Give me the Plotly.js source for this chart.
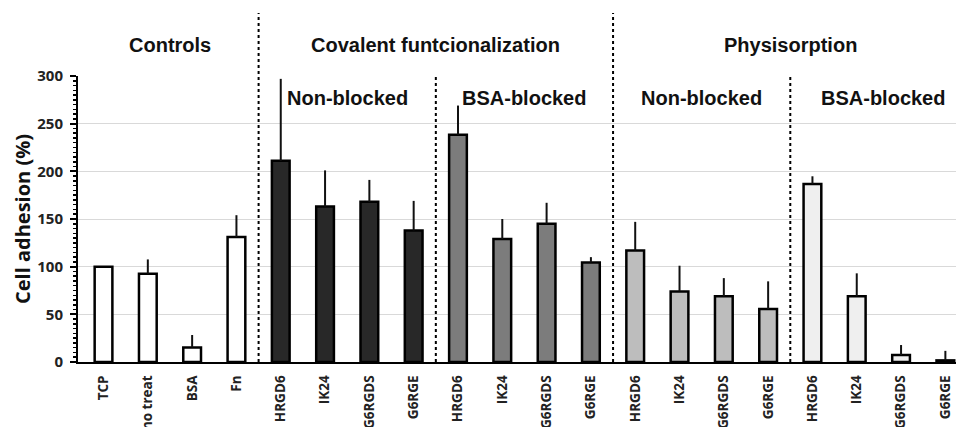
<!DOCTYPE html>
<html>
<head>
<meta charset="utf-8">
<script src="https://cdn.plot.ly/plotly-3.0.1.min.js"></script>
<style>html,body{margin:0;padding:0;background:#fff;}#chart{width:956px;height:427px;}</style>
</head>
<body>
<div id="chart"></div>
<script>
// ---- data ----
const categories = ["TCP","no treat","BSA","Fn",
  "HRGD6","IK24","G6RGDS","G6RGE",
  "HRGD6","IK24","G6RGDS","G6RGE",
  "HRGD6","IK24","G6RGDS","G6RGE",
  "HRGD6","IK24","G6RGDS","G6RGE"];
const adhesion = [100, 92.6, 15.3, 131,
  211, 163, 168, 138,
  238.5, 129, 145, 104.5,
  117, 74, 69, 55.6,
  186.8, 69, 7.3, 1.7];
const errorUp = [0, 15, 13, 23,
  86, 38, 23, 31,
  30.5, 21, 22, 5.5,
  30, 27, 19, 29,
  8, 24, 10.5, 10];
const groupOf = [0,0,0,0, 1,1,1,1, 2,2,2,2, 3,3,3,3, 4,4,4,4];
const groupFill = ["#ffffff", "#282828", "#7c7c7c", "#bdbdbd", "#efefef"];
const mainGroups = [
  {text: "Controls", x: 1.5},
  {text: "Covalent funtcionalization", x: 7.5},
  {text: "Physisorption", x: 15.5}
];
const subGroups = [
  {text: "Non-blocked", x: 5.5},
  {text: "BSA-blocked", x: 9.5},
  {text: "Non-blocked", x: 13.5},
  {text: "BSA-blocked", x: 17.6}
];
const mainDividers = [3.5, 11.5];
const subDividers = [7.5, 15.5];

// ---- chart ----
const xIdx = categories.map((_, i) => i);
const trace = {
  type: "bar",
  x: xIdx,
  y: adhesion,
  width: 0.4,
  marker: {
    color: groupOf.map(g => groupFill[g]),
    line: {color: "#000000", width: 2.5}
  },
  error_y: {
    type: "data",
    symmetric: false,
    array: errorUp,
    arrayminus: errorUp.map(() => 0),
    width: 0,
    thickness: 2,
    color: "#111111"
  },
  hoverinfo: "skip"
};

const shapes = [];
mainDividers.forEach(x => shapes.push({
  type: "line", xref: "x", yref: "paper", x0: x, x1: x, y0: 0, y1: 1.22,
  line: {color: "#000", width: 2, dash: "dot"}
}));
subDividers.forEach(x => shapes.push({
  type: "line", xref: "x", yref: "paper", x0: x, x1: x, y0: 0, y1: 1.0,
  line: {color: "#000", width: 2, dash: "dot"}
}));

const labelFont = {family: "Liberation Sans, Arial, sans-serif", size: 20, color: "#111", weight: "bold"};
const annotations = [];
mainGroups.forEach(g => annotations.push({
  text: g.text, xref: "x", yref: "paper", x: g.x, y: 1.108,
  xanchor: "center", yanchor: "middle", showarrow: false, font: labelFont
}));
subGroups.forEach(g => annotations.push({
  text: g.text, xref: "x", yref: "paper", x: g.x, y: 0.923,
  xanchor: "center", yanchor: "middle", showarrow: false, font: labelFont
}));
annotations.push({
  text: "Cell adhesion (%)", xref: "paper", yref: "paper", x: 0, y: 0.5,
  xshift: -56, xanchor: "center", yanchor: "middle", textangle: -90, showarrow: false,
  font: {family: "Open Sans, sans-serif", size: 20, color: "#111", weight: "bold"}
});

const layout = {
  width: 956, height: 427,
  margin: {l: 78, r: 0, t: 76, b: 65},
  paper_bgcolor: "#ffffff",
  plot_bgcolor: "#ffffff",
  showlegend: false,
  bargap: 0,
  xaxis: {
    range: [-0.576, 19.24],
    tickmode: "array",
    tickvals: xIdx,
    ticktext: categories,
    tickangle: -90,
    ticks: "",
    ticklabelstandoff: 6,
    showgrid: false,
    zeroline: false,
    showline: true, linecolor: "#000", linewidth: 2,
    tickfont: {family: "Open Sans, sans-serif", size: 13.5, color: "#222", weight: "bold"},
    fixedrange: true
  },
  yaxis: {
    range: [0, 300],
    tickvals: [0, 50, 100, 150, 200, 250, 300],
    ticks: "outside", ticklen: 6, tickwidth: 2, tickcolor: "#000",
    minor: {dtick: 5, ticks: "outside", ticklen: 3.5, tickwidth: 1.5, tickcolor: "#000", showgrid: false},
    showgrid: true, gridcolor: "#d9d9d9", gridwidth: 1,
    zeroline: false,
    showline: true, linecolor: "#000", linewidth: 2,
    tickfont: {family: "Open Sans, sans-serif", size: 15, color: "#222", weight: "bold"},
    ticklabelstandoff: 4,
    fixedrange: true
  },
  shapes: shapes,
  annotations: annotations
};

Plotly.newPlot("chart", [trace], layout, {displayModeBar: false, staticPlot: true});
</script>
</body>
</html>
